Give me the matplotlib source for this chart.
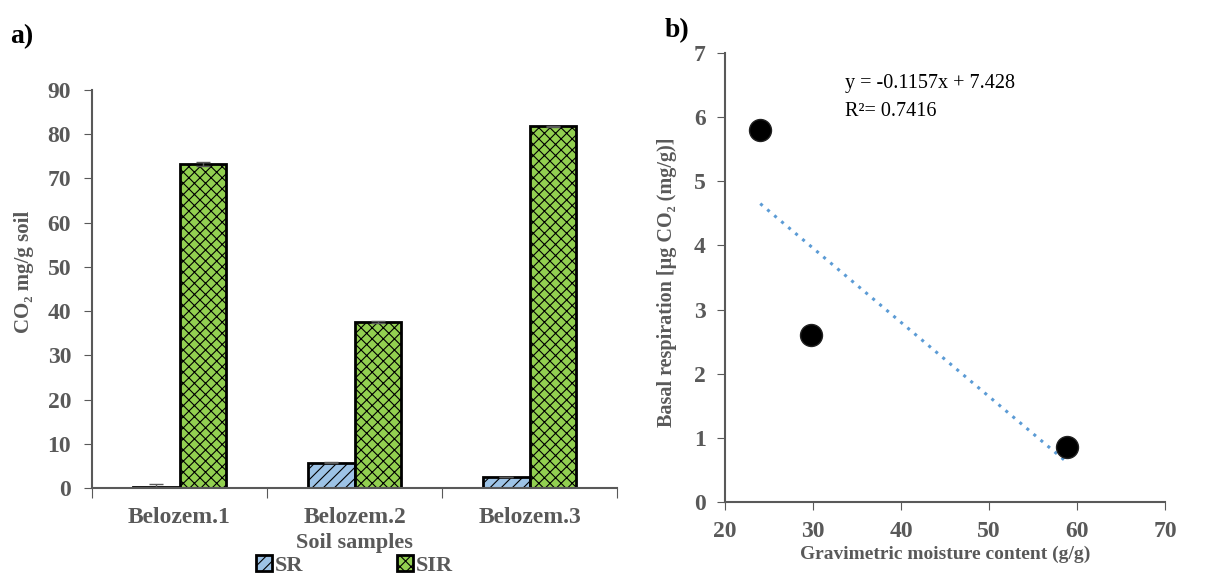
import numpy as np
import matplotlib.pyplot as plt

plt.rcParams['font.family'] = ['Liberation Serif', 'DejaVu Serif']
plt.rcParams['hatch.color'] = '#3a3a3a'
plt.rcParams['hatch.linewidth'] = 0.8

# ---- data ----
samples = ['Belozem.1', 'Belozem.2', 'Belozem.3']
sr_vals = [0.3, 5.7, 2.5]
sr_err = [0.7, 0.1, 0.1]
sir_vals = [73.3, 37.6, 81.8]
sir_err = [0.4, 0.2, 0.1]

moisture = [24.0, 29.8, 58.8]
basal = [5.8, 2.6, 0.85]
slope, intercept = -0.1157, 7.428

gray = '#595959'

fig = plt.figure(figsize=(12.19, 5.78), dpi=100)

# =============================================================================
# a) bar chart
# =============================================================================
ax1 = fig.add_axes([0.0755, 0.1557, 0.4307, 0.6886])
x = np.arange(len(samples))
w = 0.268
b1 = ax1.bar(x - w / 2, sr_vals, w, color='#9DC3E6', edgecolor='black', linewidth=2,
             hatch='///', label='SR', yerr=sr_err,
             error_kw=dict(ecolor=gray, capsize=5, elinewidth=1))
b2 = ax1.bar(x + w / 2, sir_vals, w, color='#92D050', edgecolor='black', linewidth=2,
             hatch='xxx', label='SIR', yerr=sir_err,
             error_kw=dict(ecolor=gray, capsize=5, elinewidth=1))

ax1.set_xlim(-0.5, 2.5)
ax1.set_ylim(0, 90)
ax1.set_yticks(range(0, 91, 10))
ax1.set_xticks([-0.5, 0.5, 1.5, 2.5])
ax1.set_xticklabels([])
ax1.set_xticks(x, minor=True)
ax1.set_xticklabels(samples, minor=True)
ax1.tick_params(axis='x', which='minor', length=0, pad=14, labelsize=17, labelcolor=gray)
ax1.tick_params(axis='x', which='major', length=7, direction='out', color=gray)
ax1.tick_params(axis='y', length=6, direction='out', color=gray, labelsize=17,
                labelcolor=gray, pad=9)
for lbl in ax1.get_yticklabels() + ax1.get_xticklabels(minor=True):
    lbl.set_fontweight('bold')
for s in ['top', 'right']:
    ax1.spines[s].set_visible(False)
for s in ['left', 'bottom']:
    ax1.spines[s].set_color(gray)
    ax1.spines[s].set_linewidth(1.5)

ax1.set_xlabel('Soil samples', fontsize=16, fontweight='bold', color=gray, labelpad=3)
ax1.set_ylabel('CO₂ mg/g soil', fontsize=15, fontweight='bold', color=gray)
ax1.yaxis.set_label_coords(-0.11, 0.543)

fig.legend(handles=[b1, b2], loc='center', bbox_to_anchor=(0.291, 0.022), ncol=2,
           frameon=False, columnspacing=4.2, handlelength=0.7, handleheight=0.7,
           handletextpad=0.15, prop=dict(size=16, weight='bold'),
           labelcolor=gray)

fig.text(0.008, 0.925, 'a)', fontsize=20, fontweight='bold')

# =============================================================================
# b) scatter with trend line
# =============================================================================
ax2 = fig.add_axes([0.5948, 0.1315, 0.361, 0.7768])
ax2.scatter(moisture, basal, s=250, color='black', edgecolors='#222222', zorder=5)
xt = np.array([min(moisture), max(moisture)])
ax2.plot(xt, slope * xt + intercept, linestyle=(0, (1, 2)), color='#5B9BD5',
         linewidth=2.2, zorder=3)

ax2.set_xlim(20, 70)
ax2.set_ylim(0, 7)
ax2.set_xticks(range(20, 71, 10))
ax2.set_yticks(range(0, 8))
ax2.tick_params(length=6, direction='out', color=gray, labelsize=17, labelcolor=gray, pad=8)
for lbl in ax2.get_xticklabels() + ax2.get_yticklabels():
    lbl.set_fontweight('bold')
for s in ['top', 'right']:
    ax2.spines[s].set_visible(False)
for s in ['left', 'bottom']:
    ax2.spines[s].set_color(gray)
    ax2.spines[s].set_linewidth(1.5)

ax2.set_xlabel('Gravimetric moisture content (g/g)', fontsize=14, fontweight='bold',
               color=gray, labelpad=2)
ax2.set_ylabel('Basal respiration [µg CO₂ (mg/g)]', fontsize=14.5, fontweight='bold',
               color=gray)
ax2.yaxis.set_label_coords(-0.11, 0.49)

ax2.text(33.6, 6.45, f'y = {slope}x + {intercept}', fontsize=14.5, color='black')
ax2.text(33.6, 6.02, 'R²= 0.7416', fontsize=14.5, color='black')

fig.text(0.545, 0.935, 'b)', fontsize=20, fontweight='bold')

fig.savefig('out.png', dpi=100, facecolor='white')
